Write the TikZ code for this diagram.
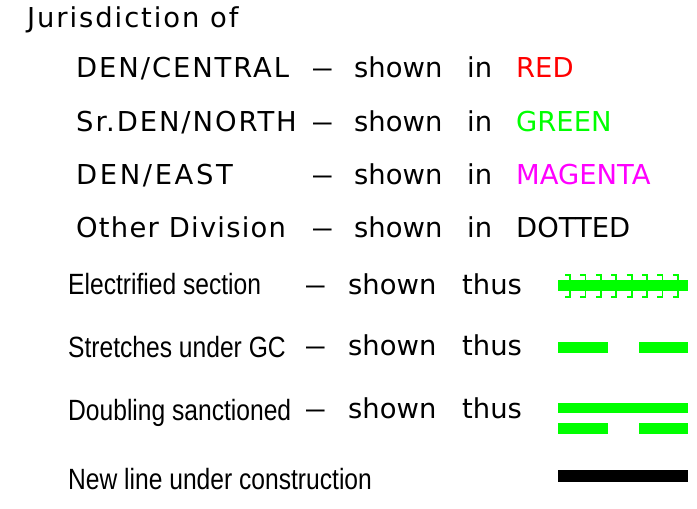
\documentclass[tikz,border=0pt]{standalone}
\usepackage{fontspec}
\setmainfont{DejaVu Sans}
\newfontfamily\narrowfont[FakeStretch=0.84]{Liberation Sans}
\newfontfamily\dashfont[FakeStretch=0.75]{DejaVu Sans}
\newfontfamily\widefont[LetterSpace=7]{DejaVu Sans}
\definecolor{acadred}{RGB}{255,0,0}
\definecolor{acadgreen}{RGB}{0,255,0}
\definecolor{acadmagenta}{RGB}{255,0,255}

\begin{document}
\begin{tikzpicture}[x=1pt,y=-1pt,
    txt/.style={anchor=base west,inner sep=0pt,font=\fontsize{27.4}{30}\selectfont},
    lbl/.style={anchor=base west,inner sep=0pt,font=\widefont\fontsize{27.4}{30}\selectfont},
    sub/.style={anchor=base west,inner sep=0pt,font=\narrowfont\fontsize{29.3}{32}\selectfont},
    dsh/.style={anchor=base west,inner sep=0pt,font=\dashfont\fontsize{27.4}{30}\selectfont},
    bar/.style={fill=acadgreen},
    tick/.style={draw=acadgreen,line width=1.8pt}]
   \useasboundingbox (0,0) rectangle (697,509);

   % jurisdiction
   \node[lbl] (jur) at (27,27) {Jurisdiction of};
   \node[lbl] (cen) at (76,77)  {DEN/CENTRAL};
   \node[lbl] (nor) at (76,131) {Sr.DEN/NORTH};
   \node[lbl] (eas) at (76,184) {\addfontfeatures{LetterSpace=9.5}DEN/EAST};
   \node[lbl] (oth) at (76,237) {\addfontfeatures{LetterSpace=4.5}Other Division};
   \foreach \y/\n/\c/\w in {77/1/acadred/RED,131/2/acadgreen/GREEN,
                            184/3/acadmagenta/MAGENTA,237/4/black/DOTTED} {
     \node[dsh] (d\n) at (312,\y) {—};
     \node[txt] (s\n) at (354,\y) {shown};
     \node[txt] (i\n) at (467,\y) {in};
     \node[txt,text=\c] (c\n) at (516,\y) {\w};
   }

   % legend of lines
   \node[sub] (elec) at (68,294) {Electrified section};
   \node[sub] (gc)   at (68,357) {Stretches under GC};
   \node[sub] (dbl)  at (68,420) {Doubling sanctioned};
   \node[sub] (new)  at (68,489) {New line under construction};
   \foreach \y/\n in {294/e,355/g,418/d} {
     \node[dsh] (dash\n) at (305,\y) {—};
     \node[txt] (shown\n) at (348,\y) {shown};
     \node[txt] (thus\n) at (462,\y) {thus};
   }

   % electrified
   \fill[bar] (558,280) rectangle (688,291);
   \foreach \i in {0,...,7}
     \draw[tick] ({565+\i*15.4},275) -- ({570+\i*15.4},275) -- ({570+\i*15.4},297) -- ({565+\i*15.4},297);
   % GC
   \fill[bar] (558,342) rectangle (608,353);
   \fill[bar] (639,342) rectangle (688,353);
   % doubling
   \fill[bar] (558,403) rectangle (688,413);
   \fill[bar] (558,423) rectangle (608,434);
   \fill[bar] (639,423) rectangle (688,434);
   % new line
   \fill (558,470) rectangle (688,482);
\end{tikzpicture}
\end{document}
